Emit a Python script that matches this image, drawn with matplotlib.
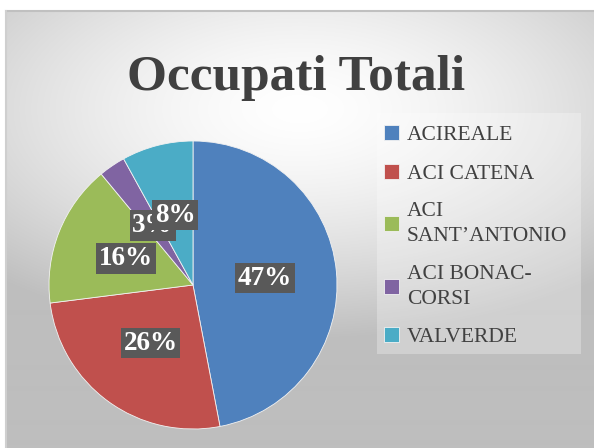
import numpy as np
import matplotlib
matplotlib.use("Agg")
import matplotlib.pyplot as plt
from matplotlib.patches import Rectangle

# data
labels = ["ACIREALE", "ACI CATENA", "ACI\nSANT\u2019ANTONIO", "ACI BONAC-\nCORSI", "VALVERDE"]
values = [47, 26, 16, 3, 8]
colors = ["#4F81BD", "#C0504D", "#9BBB59", "#8064A2", "#4BACC6"]
title = "Occupati Totali"

W, H = 594, 448
fig = plt.figure(figsize=(W / 100, H / 100), dpi=100)
fig.patch.set_facecolor("white")

# radial gradient background of the chart area
bx0, by_top = 6, 11
bg = fig.add_axes([bx0 / W, 0, 1 - bx0 / W, 1 - by_top / H])
xs = np.arange(bx0, W) + 0.5
ys = np.arange(by_top, H) + 0.5
gx, gy = np.meshgrid(xs, ys)
d = np.sqrt(((gx - 300) / 450) ** 2 + ((gy - 110) / 230) ** 2)
f = np.clip(d, 0, 1) ** 1.5
g = (255 - (255 - 190) * f) / 255
bg.imshow(np.dstack([g, g, g]), aspect="auto", interpolation="bilinear")
bg.set_axis_off()
fig.add_artist(plt.Line2D([bx0 / W, 1], [1 - by_top / H] * 2, color="#c0c0c0", lw=1.5))
fig.add_artist(plt.Line2D([bx0 / W] * 2, [0, 1 - by_top / H], color="#cfcfcf", lw=1.5))

# title
fig.text(296 / W, 1 - 78 / H, title, ha="center", va="center",
         fontsize=37, fontweight="bold", family="Liberation Serif", color="#404040")

# pie
cx, cy, r = 193, 285, 144
ax = fig.add_axes([(cx - r) / W, (H - cy - r) / H, 2 * r / W, 2 * r / H])
wedges, texts = ax.pie(values, colors=colors, startangle=90, counterclock=False,
                       labels=[f"{v}%" for v in values], labeldistance=0.5,
                       wedgeprops=dict(edgecolor="#f2f2f2", linewidth=0.6),
                       textprops=dict(color="white", fontsize=19.5, fontweight="bold",
                                      family="Liberation Serif", ha="center", va="center"))
for t in texts:
    t.set_bbox(dict(facecolor="#595959", edgecolor="none", pad=2))
ax.set_xlim(-1, 1)
ax.set_ylim(-1, 1)
ax.set_axis_off()

# legend box
fig.add_artist(Rectangle((377 / W, 1 - 354 / H), (581 - 377) / W, (354 - 113) / H,
                         transform=fig.transFigure, facecolor="white", alpha=0.28,
                         edgecolor="none"))
leg = fig.legend(wedges, labels, loc="upper left",
                 bbox_to_anchor=(380 / W, 1 - 121 / H),
                 frameon=False, prop=dict(family="Liberation Serif", size=15.5),
                 handlelength=0.7, handleheight=0.7, handletextpad=0.35,
                 labelspacing=0.85, borderpad=0.2, borderaxespad=0)
for t in leg.get_texts():
    t.set_color("#404040")
    t.set_linespacing(1.45)

fig.savefig("out.png", dpi=100)
